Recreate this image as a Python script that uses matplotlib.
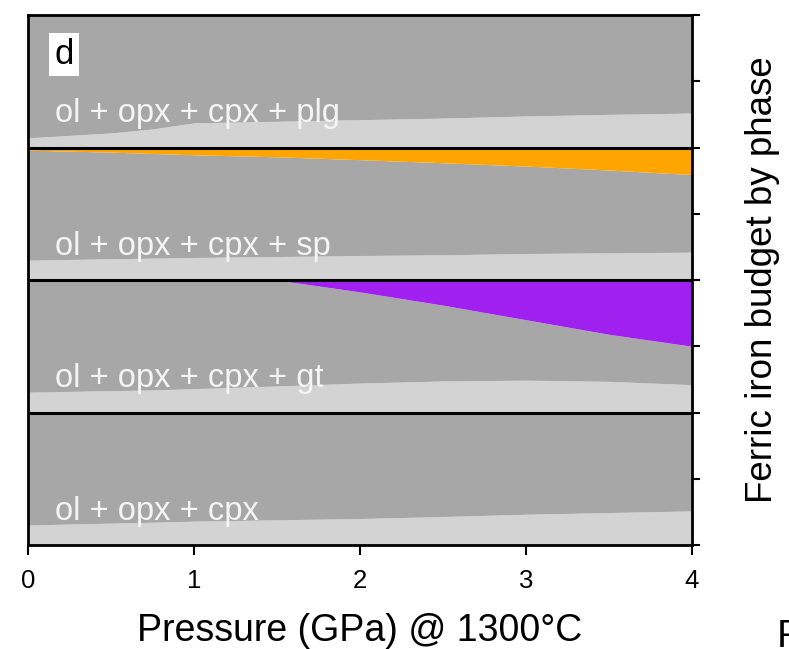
import matplotlib
matplotlib.use("Agg")
import matplotlib.pyplot as plt
import numpy as np

plt.rcParams['font.family'] = ['Liberation Sans', 'DejaVu Sans']

# Давление (ГПа)
pressure = [0, 0.5, 0.75, 1, 1.5, 2, 2.5, 3, 3.5, 4]

# Доли Fe3+ по фазам для каждой ассоциации (снизу вверх внутри панели)
# светло-серый слой снизу, цветной слой сверху, остальное - тёмно-серый
light_cpx = [0.151, 0.165, 0.172, 0.18, 0.19, 0.20, 0.215, 0.232, 0.245, 0.257]
light_gt = [0.153, 0.165, 0.17, 0.18, 0.20, 0.222, 0.238, 0.244, 0.235, 0.21]
garnet = [0, 0, 0, 0, 0, 0.09, 0.19, 0.30, 0.41, 0.50]
light_sp = [0.15, 0.16, 0.165, 0.17, 0.177, 0.185, 0.19, 0.20, 0.205, 0.21]
spinel = [0.02, 0.035, 0.045, 0.055, 0.07, 0.092, 0.115, 0.14, 0.17, 0.204]
light_plg = [0.073, 0.11, 0.14, 0.186, 0.198, 0.21, 0.222, 0.238, 0.25, 0.26]
plag = [0, 0, 0, 0, 0, 0, 0, 0, 0, 0]

# Панели снизу вверх
panels = [
    ("ol + opx + cpx", light_cpx, None, None),
    ("ol + opx + cpx + gt", light_gt, garnet, '#a020f0'),
    ("ol + opx + cpx + sp", light_sp, spinel, '#ffa500'),
    ("ol + opx + cpx + plg", light_plg, plag, None),
]

DARK = '#a7a7a7'
LIGHT = '#d3d3d3'

fig = plt.figure(figsize=(7.89, 6.49), dpi=100)
ax = fig.add_axes([28 / 789, 1 - 545 / 649, (692 - 28) / 789, (545 - 15) / 649])

x = np.array(pressure)
for i, (label, light, top, color) in enumerate(panels):
    base = i
    light = np.array(light)
    ax.fill_between(x, base, base + light, color=LIGHT, lw=0)
    if top is None:
        top_arr = np.zeros_like(x)
    else:
        top_arr = np.array(top)
    ax.fill_between(x, base + light, base + 1 - top_arr, color=DARK, lw=0)
    if color is not None:
        ax.fill_between(x, base + 1 - top_arr, base + 1, color=color, lw=0)
    ax.text(0.163, base + 0.19, label, color='#f5f5f5', fontsize=23.5,
            va='baseline', ha='left')

for b in [1, 2, 3]:
    ax.axhline(b, color='black', lw=2.2)

ax.text(0.217, 3.70, "d", fontsize=25, ha='center', va='center',
        bbox=dict(facecolor='white', edgecolor='none', pad=3.5))

ax.set_xlim(0, 4)
ax.set_ylim(0, 4)
ax.set_xticks([0, 1, 2, 3, 4])
ax.set_yticks(np.arange(0, 4.01, 0.5))
ax.yaxis.tick_right()
ax.yaxis.set_label_position('right')
ax.tick_params(axis='y', length=6, width=1.5, labelright=False)
ax.tick_params(axis='x', length=7, width=1.5, labelsize=18.5, pad=10)
for s in ax.spines.values():
    s.set_linewidth(2)

ax.set_xlabel("Pressure (GPa) @ 1300°C", fontsize=27, labelpad=15)
ax.set_ylabel("Ferric iron budget by phase", fontsize=26.5, labelpad=32,
              rotation=90)

fig.text(777 / 789, 2 / 649, "F", fontsize=28, va='baseline', ha='left')

fig.savefig("out.png", dpi=100)
